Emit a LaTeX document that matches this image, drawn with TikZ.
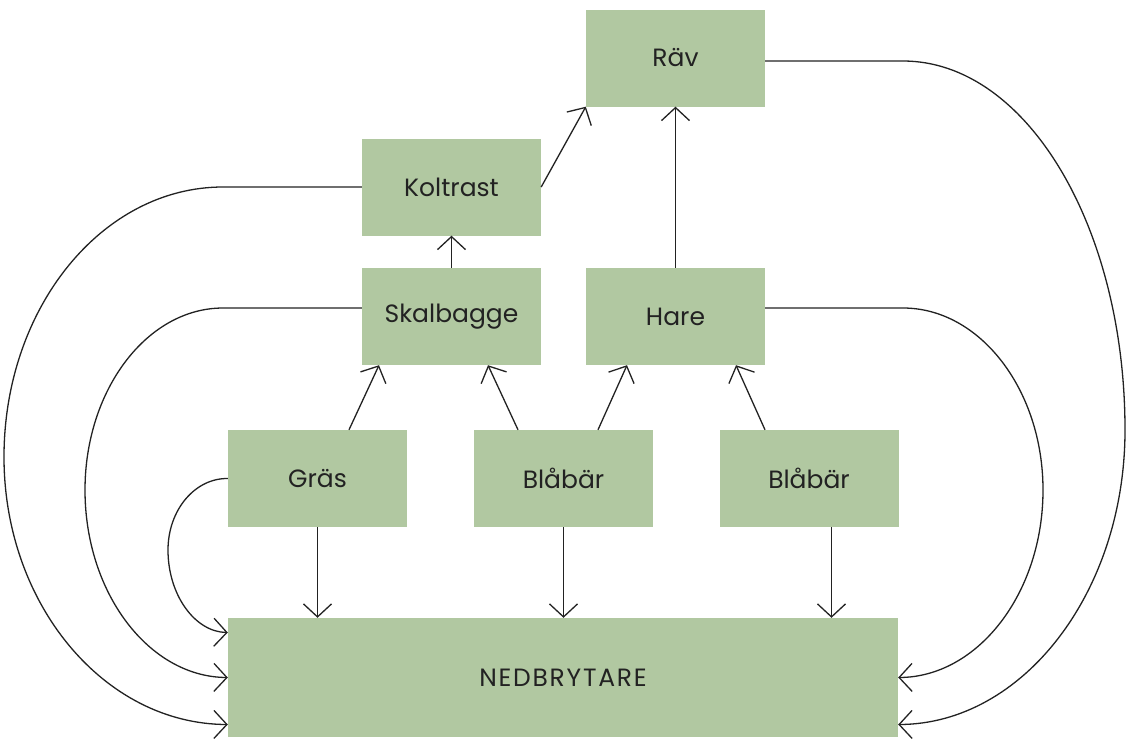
\documentclass[tikz,border=0pt]{standalone}
\usepackage{fontspec}
\setmainfont{Poppins}
\usepackage{tikz}
\usetikzlibrary{arrows.meta, math}

\definecolor{lovgron}{RGB}{177,200,161}
\definecolor{linje}{RGB}{34,34,34}

\begin{document}
\begin{tikzpicture}[x=1pt, y=-1pt, >={Straight Barb[length=13pt, width=28pt]},
  ruta/.style={rectangle, fill=lovgron, inner sep=0pt, text=linje,
    minimum width=179pt, minimum height=97pt, font=\fontsize{25}{29}\selectfont},
  pil/.style={->, draw=linje, line width=1.3pt}]

\tikzmath{
			\yk = 187; \ys = 308; \yr = 61;
			\xv = 223; \xh = 903;
          }

\useasboundingbox (0,0) rectangle (1129,742);

\node[ruta] (rav) at (675.5,58) {Räv};
\node[ruta] (koltrast) at (451.5,187) {Koltrast};
\node[ruta] (skalbagge) at (451.5,316.5) {Skalbagge};
\node[ruta] (hare) at (675.5,316.5) {Hare};
\node[ruta] (gras) at (317.5,478.5) {Gräs};
\node[ruta] (blabar1) at (563.5,478.5) {Blåbär};
\node[ruta] (blabar2) at (809,478.5) {Blåbär};
\node[ruta, minimum width=670pt, minimum height=119pt] (ned) at (563,677.5)
  {\addfontfeature{LetterSpace=7}NEDBRYTARE};

\draw[pil] (skalbagge.north) -- (koltrast.south);
\draw[pil] (koltrast.east) -- (rav.south west);
\draw[pil] (hare.north) -- (rav.south);

\draw[pil] ([xshift=31.5pt]gras.north) -- ([xshift=-72.5pt]skalbagge.south);
\draw[pil] ([xshift=-45.5pt]blabar1.north) -- ([xshift=36.5pt]skalbagge.south);
\draw[pil] ([xshift=34.5pt]blabar1.north) -- ([xshift=-48.5pt]hare.south);
\draw[pil] ([xshift=-44pt]blabar2.north) -- ([xshift=60.5pt]hare.south);

\draw[pil] (gras.south) -- (gras.south |- ned.north);
\draw[pil] (blabar1.south) -- (blabar1.south |- ned.north);
\draw[pil] ([xshift=22.5pt]blabar2.south) -- ([xshift=22.5pt]blabar2.south |- ned.north);

\draw[pil] (koltrast.west) -- (\xv,\yk) .. controls (102,\yk) and (4,308) .. (4,457)
  .. controls (4,604) and (104,724) .. ([yshift=-47pt]ned.west);
\draw[pil] ([yshift=8.5pt]skalbagge.west) -- (\xv,\ys) .. controls (147,\ys) and (85,390) .. (85,490)
  .. controls (85,593) and (149,677) .. (ned.west);
\draw[pil] (gras.west) .. controls (195,478) and (168,510) .. (168,550)
  .. controls (168,595) and (195,632) .. ([yshift=45pt]ned.west);

\draw[pil] ([yshift=-3pt]rav.east) -- (\xh,\yr) .. controls (1026,\yr) and (1125,226) .. (1125,430)
  .. controls (1125,592) and (1023,724) .. ([yshift=-47pt]ned.east);
\draw[pil] ([yshift=8.5pt]hare.east) -- (\xh,\ys) .. controls (980,\ys) and (1043,390) .. (1043,490)
  .. controls (1043,593) and (978,677) .. (ned.east);

\end{tikzpicture}
\end{document}
